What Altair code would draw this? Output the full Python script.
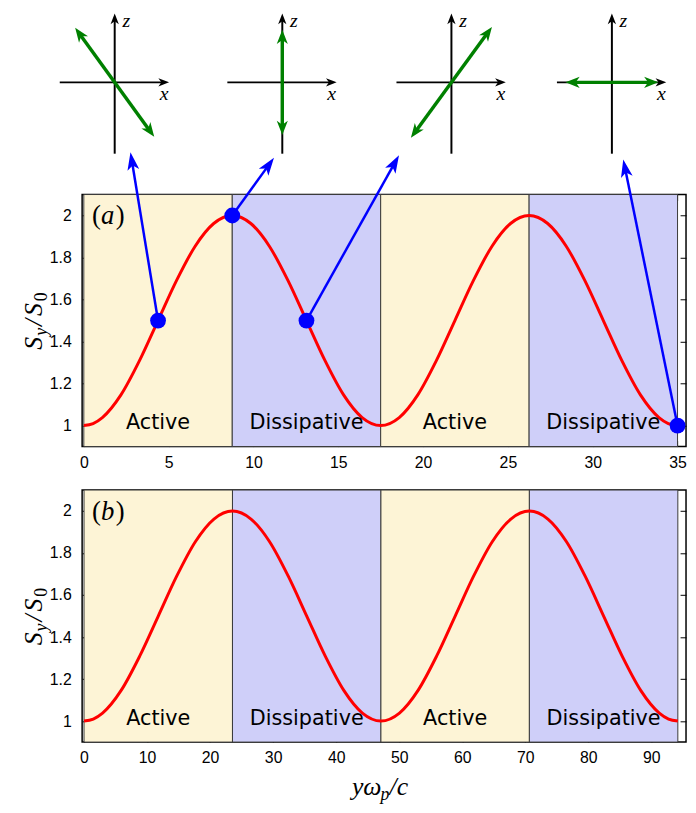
import math
import altair as alt
import pandas as pd

# ---------------- values ----------------
XA = [0.0, 0.547, 1.094, 2.188, 3.281, 4.375, 5.469, 6.563, 7.656, 8.75, 9.844, 10.938,
      12.031, 13.125, 14.219, 15.313, 16.406, 17.5, 18.594, 19.688, 20.781, 21.875,
      22.969, 24.063, 25.156, 26.25, 27.344, 28.438, 29.531, 30.625, 31.719, 32.813,
      33.906, 34.453, 35.0]
SA = [1.0, 1.0096, 1.038, 1.146, 1.309, 1.5, 1.691, 1.854, 1.962, 2.0, 1.962, 1.854, 1.691,
      1.5, 1.309, 1.146, 1.038, 1.0, 1.038, 1.146, 1.309, 1.5, 1.691, 1.854, 1.962,
      2.0, 1.962, 1.854, 1.691, 1.5, 1.309, 1.146, 1.038, 1.0096, 1.0]
XB = [0.0, 1.47, 2.94, 5.89, 8.83, 11.78, 14.72, 17.66, 20.61, 23.55, 26.49, 29.44, 32.38,
      35.33, 38.27, 41.21, 44.16, 47.1, 50.04, 52.99, 55.93, 58.88, 61.82, 64.76,
      67.71, 70.65, 73.59, 76.54, 79.48, 82.43, 85.37, 88.31, 91.26, 92.73, 94.2]
SB = [1.0, 1.0096, 1.038, 1.146, 1.309, 1.5, 1.691, 1.854, 1.962, 2.0, 1.962, 1.854, 1.691,
      1.5, 1.309, 1.146, 1.038, 1.0, 1.038, 1.146, 1.309, 1.5, 1.691, 1.854, 1.962,
      2.0, 1.962, 1.854, 1.691, 1.5, 1.309, 1.146, 1.038, 1.0096, 1.0]

EDGES_A = [0.0, 8.75, 17.5, 26.25, 35.0]
EDGES_B = [0.0, 23.55, 47.1, 70.65, 94.2]
REGION_NAMES = ["Active", "Dissipative", "Active", "Dissipative"]
LABEL_LEVEL = 1.01

XTICKS_A = [0, 5, 10, 15, 20, 25, 30, 35]
XTICKS_B = [0, 10, 20, 30, 40, 50, 60, 70, 80, 90]
YTICKS = [1.0, 1.2, 1.4, 1.6, 1.8, 2.0]

# marked points on the curve of panel (a) and where their arrows point
DOT_X = [4.375, 8.75, 13.125, 35.0]
DOT_Y = [1.5, 2.0, 1.5, 1.0]
TIP_X = [2.75, 11.21, 18.58, 31.80]
TIP_Y = [2.301, 2.275, 2.287, 2.267]

# polarisation sketches (centres in panel-(a) data units, field components)
DIAG_X = [1.82, 11.70, 21.67, 31.13]
DIAG_Y = [2.634, 2.634, 2.634, 2.634]
POL_EX = [-0.40, 0.0, 0.41, 0.47]
POL_EZ = [0.56, 0.54, 0.57, 0.0]

# ---------------- style ----------------
W, H = 611, 255
XDOM_A = [-0.1, 35.5]
XDOM_B = [-0.3, 95.5]
YDOM = [0.9, 2.1]
KX = W / (XDOM_A[1] - XDOM_A[0])
KY = 259 / (YDOM[1] - YDOM[0])          # sketch geometry measured at this scale
KYP = H / (YDOM[1] - YDOM[0])           # actual plot scale
CREAM = "#fdf4d6"
LAVENDER = "#cfcff9"
SERIF = "Liberation Serif"
HEAD_PATH = "M0,-1L0.7,0.8L0,0.3L-0.7,0.8Z"
BLUE_HEAD_PATH = "M0,-1L0.6,0.8L0,0.35L-0.6,0.8Z"
LK, LG, LB = 12, 16, 20


def unit(dx, dy):
    sx, sy = dx * KX, -dy * KYP
    n = math.hypot(sx, sy)
    return sx / n, sy / n


def back(x, y, ux, uy, d):
    return x - ux * d / KX, y + uy * d / KYP


def head(x, y, ux, uy, L):
    cx, cy = back(x, y, ux, uy, L / 2)
    return {"x": cx, "y": cy, "angle": math.degrees(math.atan2(ux, -uy)) % 360}


blue_lines, blue_heads = [], []
for dx, dy, tx, ty in zip(DOT_X, DOT_Y, TIP_X, TIP_Y):
    ux, uy = unit(tx - dx, ty - dy)
    ex, ey = back(tx, ty, ux, uy, 0.6 * LB)
    blue_lines.append({"x": dx, "y": dy, "x2": ex, "y2": ey})
    blue_heads.append(head(tx, ty, ux, uy, LB))

green_lines, green_heads = [], []
black_lines, black_heads, axis_labels = [], [], []
for cx, cy, ex, ez in zip(DIAG_X, DIAG_Y, POL_EX, POL_EZ):
    p1 = (cx + ex * 100 / KX, cy + ez * 100 / KY)
    p2 = (cx - ex * 100 / KX, cy - ez * 100 / KY)
    ux, uy = unit(p1[0] - cx, p1[1] - cy)
    a1 = back(p1[0], p1[1], ux, uy, 0.6 * LG)
    a2 = back(p2[0], p2[1], -ux, -uy, 0.6 * LG)
    green_lines.append({"x": a2[0], "y": a2[1], "x2": a1[0], "y2": a1[1]})
    green_heads.append(head(p1[0], p1[1], ux, uy, LG))
    green_heads.append(head(p2[0], p2[1], -ux, -uy, LG))
    # x axis of the sketch
    xt = (cx + 55 / KX, cy)
    xe = back(xt[0], xt[1], 1, 0, 0.6 * LK)
    black_lines.append({"x": cx - 55.6 / KX, "y": cy, "x2": xe[0], "y2": xe[1]})
    black_heads.append(head(xt[0], xt[1], 1, 0, LK))
    # z axis of the sketch
    zt = (cx, cy + 70.7 / KY)
    ze = back(zt[0], zt[1], 0, -1, 0.6 * LK)
    black_lines.append({"x": cx, "y": cy - 73.3 / KY, "x2": ze[0], "y2": ze[1]})
    black_heads.append(head(zt[0], zt[1], 0, -1, LK))
    axis_labels.append({"x": cx + 50 / KX, "y": cy - 12.5 / KY, "t": "x"})
    axis_labels.append({"x": cx + 11.7 / KX, "y": cy + 63.5 / KY, "t": "z"})


def axes(xticks):
    return dict(
        bottom=alt.Axis(values=xticks, orient="bottom", offset=-6, tickSize=6,
                        domain=False, grid=False, labelPadding=8, format="d"),
        top=alt.Axis(values=xticks, orient="top", offset=-6, tickSize=6,
                     domain=False, grid=False, labels=False),
        left=alt.Axis(values=YTICKS, orient="left", offset=-6, tickSize=6,
                      domain=False, grid=False, labelPadding=11, format=".1~f"),
        right=alt.Axis(values=YTICKS, orient="right", offset=-6, tickSize=6,
                       domain=False, grid=False, labels=False),
    )


def text_piece(txt, px, py, size, italic=True, angle=0, align="left"):
    kw = dict(text=txt, font=SERIF, fontSize=size, align=align,
              baseline="alphabetic", color="black")
    if italic:
        kw["fontStyle"] = "italic"
    if angle:
        kw["angle"] = angle
    return alt.Chart(pd.DataFrame({"o": [0]})).mark_text(**kw).encode(
        x=alt.value(px), y=alt.value(py))


def ytitle_pieces():
    return [
        text_piece("S", -41, 157, 26, angle=270),
        text_piece("y", -36, 143, 18, angle=270),
        text_piece("/", -41, 133, 26, angle=270),
        text_piece("S", -41, 123, 26, angle=270),
        text_piece("0", -36, 108, 18, italic=False, angle=270),
    ]


def tag_pieces(letter):
    return [
        text_piece("(", 10, 30, 27, italic=False),
        text_piece(letter, 19, 30, 27),
        text_piece(")", 34, 30, 27, italic=False),
    ]


def panel(xs_list, s_list, edges, xdom, xticks, letter, extra=None, bottom_title=None):
    xs = alt.Scale(domain=xdom, nice=False, zero=False)
    ys = alt.Scale(domain=YDOM, nice=False, zero=False)
    ax = axes(xticks)
    regions = pd.DataFrame({
        "x": edges[:-1], "x2": edges[1:], "name": REGION_NAMES,
        "mid": [(a + b) / 2 for a, b in zip(edges[:-1], edges[1:])],
        "ly": [LABEL_LEVEL] * 4,
    })
    curve = pd.DataFrame({"x": xs_list, "s": s_list})
    layers = [
        alt.Chart(regions).mark_rect(stroke="#3a3a3a", strokeWidth=1).encode(
            x=alt.X("x:Q", scale=xs, axis=ax["bottom"], title=None),
            x2="x2:Q",
            color=alt.Color("name:N", legend=None,
                            scale=alt.Scale(domain=["Active", "Dissipative"],
                                            range=[CREAM, LAVENDER])),
        ),
        alt.Chart(curve).mark_line(color="#ff0000", strokeWidth=3,
                                   interpolate="monotone").encode(
            x=alt.X("x:Q", scale=xs, axis=ax["top"], title=None),
            y=alt.Y("s:Q", scale=ys, axis=ax["left"], title=None),
        ),
        alt.Chart(regions).mark_text(font="DejaVu Sans", fontSize=21,
                                     color="black", baseline="middle").encode(
            x=alt.X("mid:Q", scale=xs, axis=None),
            y=alt.Y("ly:Q", scale=ys, axis=ax["right"], title=None),
            text="name:N",
        ),
    ]
    if extra:
        layers += extra(xs, ys)
    layers += tag_pieces(letter)
    layers += ytitle_pieces()
    if bottom_title:
        layers += bottom_title
    return alt.layer(*layers).resolve_axis(x="independent", y="independent").properties(
        width=W, height=H)


def sketch_layers(xs, ys):
    def seg(rows, color, width):
        return alt.Chart(pd.DataFrame(rows)).mark_rule(color=color, strokeWidth=width).encode(
            x=alt.X("x:Q", scale=xs, axis=None), y=alt.Y("y:Q", scale=ys, axis=None),
            x2="x2:Q", y2="y2:Q")

    def heads(rows, color, path, L):
        return alt.Chart(pd.DataFrame(rows)).mark_point(
            shape=path, filled=True, size=L * L, color=color, opacity=1, strokeWidth=0
        ).encode(x=alt.X("x:Q", scale=xs, axis=None), y=alt.Y("y:Q", scale=ys, axis=None),
                 angle=alt.Angle("angle:Q", scale=None))

    dots = pd.DataFrame({"x": DOT_X, "y": DOT_Y})
    return [
        seg(blue_lines, "#0000ff", 2.5),
        alt.Chart(dots).mark_circle(size=256, color="#0000ff", opacity=1).encode(
            x=alt.X("x:Q", scale=xs, axis=None), y=alt.Y("y:Q", scale=ys, axis=None)),
        heads(blue_heads, "#0000ff", BLUE_HEAD_PATH, LB),
        seg(black_lines, "black", 2),
        heads(black_heads, "black", HEAD_PATH, LK),
        seg(green_lines, "#008000", 3.5),
        heads(green_heads, "#008000", HEAD_PATH, LG),
        alt.Chart(pd.DataFrame(axis_labels)).mark_text(
            font=SERIF, fontStyle="italic", fontSize=20, color="black",
            baseline="middle").encode(
            x=alt.X("x:Q", scale=xs, axis=None), y=alt.Y("y:Q", scale=ys, axis=None),
            text="t:N"),
    ]


xtitle = [
    text_piece("yω", 273, 309, 26),
    text_piece("p", 302, 314, 18),
    text_piece("/c", 311, 309, 26),
]

panel_a = panel(XA, SA, EDGES_A, XDOM_A, XTICKS_A, "a", extra=sketch_layers)
panel_b = panel(XB, SB, EDGES_B, XDOM_B, XTICKS_B, "b", bottom_title=xtitle)

chart = alt.vconcat(panel_a, panel_b, spacing=17).properties(
    padding={"left": 12, "top": -3, "right": 0, "bottom": 0}
).configure_view(stroke="black", strokeWidth=1.5).configure_axis(
    labelFont="Liberation Sans", labelFontSize=16, labelColor="black",
    tickColor="black", tickWidth=1)

chart.save("out.html", embed_options={"renderer": "svg", "actions": False})
